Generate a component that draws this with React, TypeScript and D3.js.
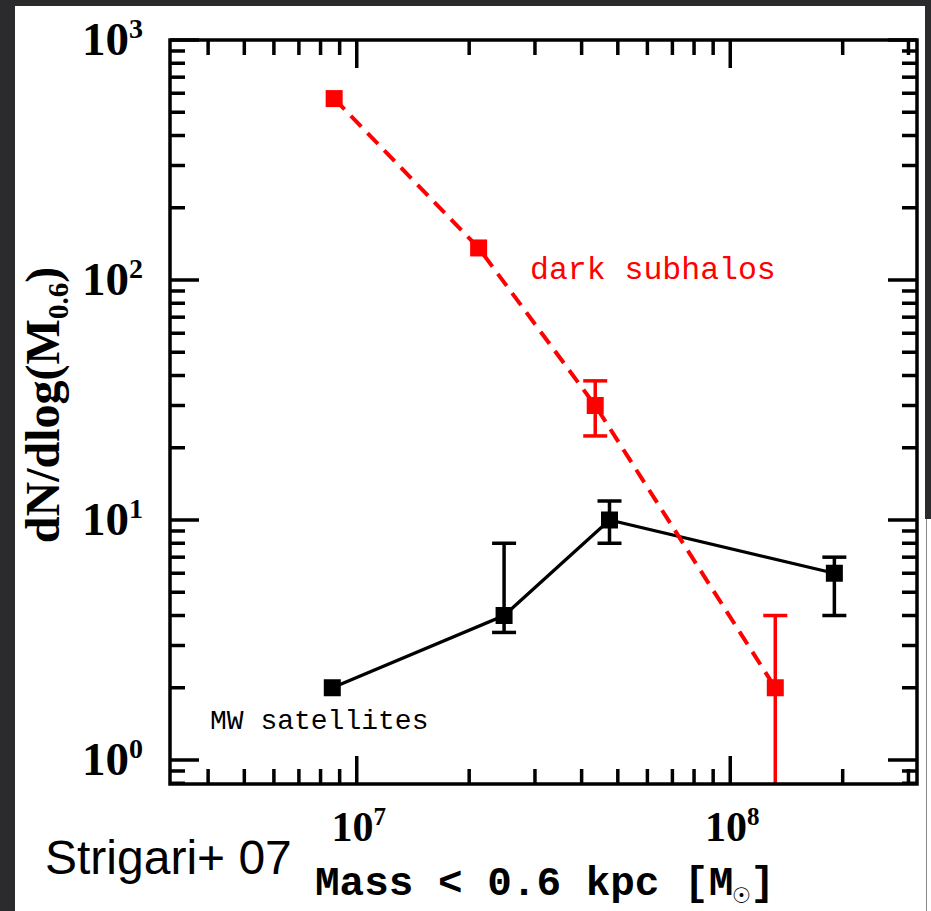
import React from "react";
import * as d3 from "d3";

// ---- data ----
const subhaloMass = [8.7e6, 2.12e7, 4.35e7, 1.32e8];
const subhaloN = [570, 136, 30, 2];
const subhaloErrLo: (number | null)[] = [null, null, 22.4, 0.1];
const subhaloErrHi: (number | null)[] = [null, null, 38, 4];

const mwMass = [8.6e6, 2.48e7, 4.75e7, 1.9e8];
const mwN = [2, 4, 10, 6];
const mwErrLo: (number | null)[] = [null, 3.4, 8, 4];
const mwErrHi: (number | null)[] = [null, 8, 12, 7];

const yTickValues = [1, 10, 100, 1000];
const yTickExps = ["0", "1", "2", "3"];
const xTickValues = [1e7, 1e8];
const xTickExps = ["7", "8"];

const W = 931;
const H = 911;
const L = 170, R = 917, T = 40, B = 784;

export default function App() {
  const x = d3.scaleLog().domain([Math.pow(10, 6.5), Math.pow(10, 8.5)]).range([L, R]);
  const y = d3.scaleLog().domain([Math.pow(10, -0.1), 1000]).range([B, T]);

  const xt = x.ticks().filter((v) => v >= x.domain()[0] && v <= x.domain()[1]);
  const yt = y.ticks().filter((v) => v >= y.domain()[0] && v <= y.domain()[1]);
  const isMajor = (v: number) => Math.abs(Math.log10(v) - Math.round(Math.log10(v))) < 1e-6;

  const line = d3.line<[number, number]>().x((d) => x(d[0])).y((d) => y(d[1]));
  const red = "#ff0000";
  const ms = 17;
  const cap = 12;

  const subPts = subhaloMass.map((m, i) => [m, subhaloN[i]] as [number, number]);
  const mwPts = mwMass.map((m, i) => [m, mwN[i]] as [number, number]);

  const errBars = (mass: number[], lo: (number | null)[], hi: (number | null)[], color: string, key: string) =>
    mass.map((m, i) => {
      if (lo[i] == null || hi[i] == null) return null;
      const cx = x(m);
      const y1 = y(hi[i] as number);
      const y0raw = y(lo[i] as number);
      const y0 = Math.min(y0raw, B);
      return (
        <g key={key + i} stroke={color} strokeWidth={3.5}>
          <line x1={cx} x2={cx} y1={y1} y2={y0} />
          <line x1={cx - cap} x2={cx + cap} y1={y1} y2={y1} />
          {y0raw <= B && <line x1={cx - cap} x2={cx + cap} y1={y0} y2={y0} />}
        </g>
      );
    });

  return (
    <svg width={W} height={H} style={{ position: "absolute", left: 0, top: 0 }}>
      <defs>
        <clipPath id="plotclip">
          <rect x={L} y={T} width={R - L} height={B - T} />
        </clipPath>
      </defs>
      <rect x={0} y={0} width={W} height={H} fill="#2b2b2d" />
      <rect x={15} y={6} width={910} height={H - 6} fill="#ffffff" />
      <rect x={925} y={519} width={6} height={H - 519} fill="#ffffff" />
      <line x1={926.5} x2={926.5} y1={519} y2={H} stroke="#8a8a8a" strokeWidth={1} />

      {/* ticks */}
      <g stroke="#000" strokeWidth={3.5}>
        {xt.map((v, i) => {
          const len = isMajor(v) ? 28 : 15;
          const px = x(v);
          return (
            <g key={"xt" + i}>
              <line x1={px} x2={px} y1={B} y2={B - len} />
              <line x1={px} x2={px} y1={T} y2={T + len} />
            </g>
          );
        })}
        {yt.map((v, i) => {
          const len = isMajor(v) ? 29 : 15;
          const py = y(v);
          return (
            <g key={"yt" + i}>
              <line x1={L} x2={L + len} y1={py} y2={py} />
              <line x1={R} x2={R - len} y1={py} y2={py} />
            </g>
          );
        })}
      </g>

      {/* data */}
      <g clipPath="url(#plotclip)">
        <path d={line(mwPts) || ""} fill="none" stroke="#000" strokeWidth={3.3} />
        {errBars(mwMass, mwErrLo, mwErrHi, "#000", "mw")}
        {mwPts.map((p, i) => (
          <rect key={"mwm" + i} x={x(p[0]) - ms / 2} y={y(p[1]) - ms / 2} width={ms} height={ms} fill="#000" />
        ))}
        <path d={line(subPts) || ""} fill="none" stroke={red} strokeWidth={4} strokeDasharray="15,9" />
        {errBars(subhaloMass, subhaloErrLo, subhaloErrHi, red, "sh")}
        {subPts.map((p, i) => (
          <rect key={"shm" + i} x={x(p[0]) - ms / 2} y={y(p[1]) - ms / 2} width={ms} height={ms} fill={red} />
        ))}
      </g>

      {/* frame */}
      <rect x={L} y={T} width={R - L} height={B - T} fill="none" stroke="#000" strokeWidth={3.5} />

      {/* y tick labels */}
      {yTickValues.map((v, i) => (
        <text
          key={"yl" + i}
          x={143}
          y={y(v) + 15}
          textAnchor="end"
          fontFamily="'Liberation Serif', 'Times New Roman', serif"
          fontWeight="bold"
          fontSize={47}
          fill="#000"
        >
          10
          <tspan fontSize={28} dy={-17}>{yTickExps[i]}</tspan>
        </text>
      ))}

      {/* x tick labels */}
      {xTickValues.map((v, i) => (
        <text
          key={"xl" + i}
          x={x(v) + 2}
          y={841}
          textAnchor="middle"
          fontFamily="'Liberation Serif', 'Times New Roman', serif"
          fontWeight="bold"
          fontSize={42}
          fill="#000"
        >
          10
          <tspan fontSize={25} dy={-16}>{xTickExps[i]}</tspan>
        </text>
      ))}

      {/* axis titles */}
      <text
        transform="translate(59,405) rotate(-90)"
        textAnchor="middle"
        fontFamily="'Liberation Serif', 'Times New Roman', serif"
        fontWeight="bold"
        fontSize={48}
        fill="#000"
      >
        dN/dlog(M
        <tspan fontSize={29} dy={9}>0.6</tspan>
        <tspan dy={-9}>)</tspan>
      </text>

      <text
        x={315}
        y={895}
        fontFamily="'Liberation Mono', 'Courier New', monospace"
        fontWeight="bold"
        fontSize={41}
        fill="#000"
      >
        Mass &lt; 0.6 kpc [M
        <tspan fontSize={28} dy={8}>☉</tspan>
        <tspan dy={-8}>]</tspan>
      </text>

      <text x={45} y={874} fontFamily="'Liberation Sans', Arial, sans-serif" fontSize={48} fill="#000">
        Strigari+ 07
      </text>

      <text x={530} y={279} fontFamily="'Liberation Mono', 'Courier New', monospace" fontSize={31.5} fill={red}>
        dark subhalos
      </text>
      <text x={210} y={729} fontFamily="'Liberation Mono', 'Courier New', monospace" fontSize={28} fill="#000">
        MW satellites
      </text>
    </svg>
  );
}
